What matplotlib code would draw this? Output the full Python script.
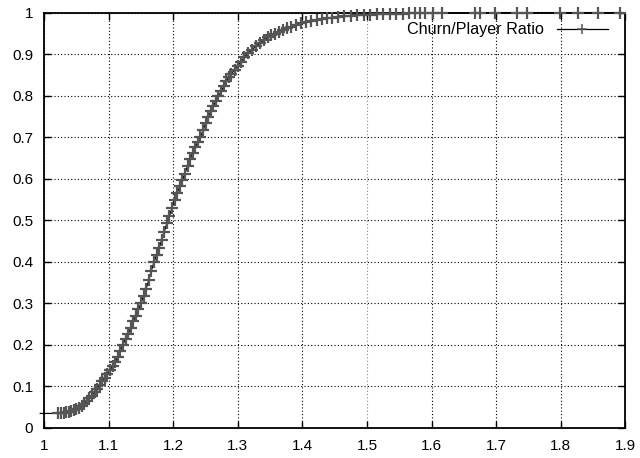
import matplotlib
matplotlib.use('Agg')
import matplotlib.pyplot as plt

plt.rcParams['font.family'] = ['Liberation Sans', 'DejaVu Sans']

# CDF of churn/player ratio
ratio = [0.994, 1.022, 1.026, 1.030, 1.034, 1.038, 1.042, 1.046, 1.050, 1.054,
         1.058, 1.062, 1.066, 1.070, 1.074, 1.078, 1.082, 1.086, 1.090, 1.094,
         1.098, 1.102, 1.106, 1.110, 1.114, 1.118, 1.122, 1.126, 1.130, 1.134,
         1.138, 1.142, 1.146, 1.150, 1.154, 1.158, 1.162, 1.166, 1.170, 1.174,
         1.178, 1.182, 1.186, 1.190, 1.194, 1.198, 1.202, 1.206, 1.210, 1.214,
         1.218, 1.222, 1.226, 1.230, 1.234, 1.238, 1.242, 1.246, 1.250, 1.254,
         1.258, 1.262, 1.266, 1.270, 1.274, 1.278, 1.282, 1.286, 1.290, 1.295,
         1.300, 1.305, 1.310, 1.316, 1.322, 1.328, 1.334, 1.340, 1.346, 1.352,
         1.358, 1.364, 1.370, 1.376, 1.382, 1.390, 1.398, 1.406, 1.414, 1.422,
         1.430, 1.438, 1.446, 1.455, 1.465, 1.475, 1.485, 1.495, 1.505, 1.515,
         1.525, 1.535, 1.545, 1.555, 1.565, 1.575, 1.582, 1.590, 1.602, 1.616,
         1.667, 1.675, 1.698, 1.732, 1.748, 1.799, 1.827, 1.858, 1.892]
cdf = [0.034, 0.034, 0.035, 0.036, 0.037, 0.038, 0.040, 0.042, 0.045, 0.048,
       0.052, 0.057, 0.063, 0.070, 0.077, 0.085, 0.094, 0.103, 0.112, 0.120,
       0.128, 0.138, 0.148, 0.157, 0.170, 0.185, 0.200, 0.213, 0.225, 0.240,
       0.256, 0.270, 0.285, 0.300, 0.318, 0.335, 0.355, 0.378, 0.398, 0.415,
       0.432, 0.452, 0.472, 0.492, 0.510, 0.530, 0.548, 0.565, 0.582, 0.596,
       0.612, 0.630, 0.646, 0.662, 0.676, 0.688, 0.700, 0.716, 0.733, 0.748,
       0.762, 0.775, 0.787, 0.798, 0.810, 0.822, 0.834, 0.845, 0.853, 0.862,
       0.872, 0.882, 0.892, 0.902, 0.911, 0.919, 0.926, 0.933, 0.940, 0.945,
       0.949, 0.954, 0.958, 0.962, 0.966, 0.970, 0.974, 0.977, 0.980, 0.982,
       0.984, 0.986, 0.988, 0.990, 0.991, 0.992, 0.993, 0.994, 0.995, 0.9955,
       0.996, 0.9965, 0.997, 0.9975, 0.998, 0.9985, 0.999, 0.999, 0.999, 0.9995,
       0.9995, 0.9995, 1.0, 1.0, 1.0, 1.0, 1.0, 1.0, 1.0]

xticks = [1, 1.1, 1.2, 1.3, 1.4, 1.5, 1.6, 1.7, 1.8, 1.9]
yticks = [0, 0.1, 0.2, 0.3, 0.4, 0.5, 0.6, 0.7, 0.8, 0.9, 1]

fig = plt.figure(figsize=(6.4, 4.58), dpi=100)
ax = fig.add_axes([0.069, 0.0665, 0.908, 0.906])

ax.plot(ratio, cdf, color='black', linewidth=0.9, marker='+',
        markersize=8, markeredgewidth=1.6, markeredgecolor='#555555',
        markevery=slice(1, None),
        label='Churn/Player Ratio', clip_on=False, zorder=3)

ax.set_xlim(1, 1.9)
ax.set_ylim(0, 1)
ax.set_xticks(xticks)
ax.set_xticklabels([('%g' % t) for t in xticks])
ax.set_yticks(yticks)
ax.set_yticklabels([('%g' % t) for t in yticks])
ax.tick_params(direction='in', length=5, width=1, top=True, right=True,
               labelsize=11, pad=8)
ax.grid(True, color='black', linestyle=(0, (1, 2)), linewidth=0.8)
# the 1.5 grid line comes out bluish in the scan
ax.get_xgridlines()[5].set_color('#3aa6b0')
for s in ax.spines.values():
    s.set_linewidth(1.3)

leg = ax.legend(loc='upper right', bbox_to_anchor=(0.976, 0.984),
                frameon=False, markerfirst=False, fontsize=11.6,
                handlelength=3.2, borderaxespad=0, borderpad=0.2,
                handletextpad=0.8)
leg.get_lines()[0].set_markeredgewidth(1.1)
leg.get_lines()[0].set_markersize(7)

plt.savefig('out.png', dpi=100)
